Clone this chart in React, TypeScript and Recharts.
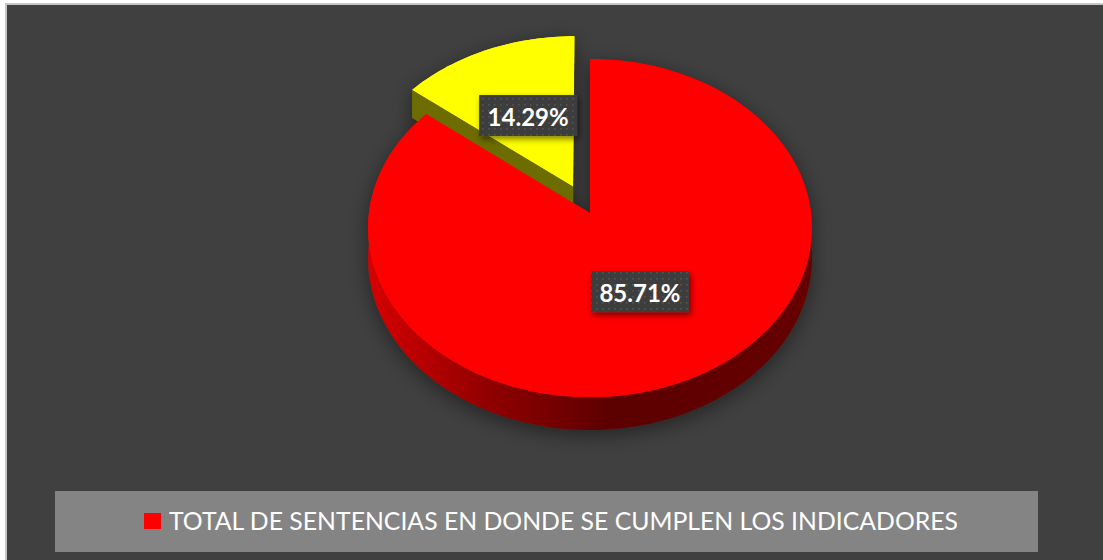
import React from "react";
import { PieChart, Pie, Cell, Legend } from "recharts";

// ---- data ----
const CATEGORIES = ["TOTAL DE SENTENCIAS EN DONDE SE CUMPLEN LOS INDICADORES", ""];
const VALUES = [85.71, 14.29];

// ---- styles ----
const TOP_COLORS = ["#ff0000", "#ffff00"];
const RADIAL_COLORS = ["#7a0000", "#6c6c00"];
const WALL_STOPS: [number, string][][] = [
  [
    [0, "#d60000"],
    [0.28, "#8e0000"],
    [0.55, "#5c0000"],
    [1, "#660000"],
  ],
  [
    [0, "#7a7a00"],
    [1, "#5a5a00"],
  ],
];
const EXPLODE: Record<number, number> = { 1: 0.18 };

const TILT = 0.759;
const PERSP = 0.0888;
const DEPTH = 30 / 221;
const RAD = Math.PI / 180;

const data = CATEGORIES.map((name, i) => ({ name, value: VALUES[i] }));
const TOTAL = VALUES.reduce((a, b) => a + b, 0);

function project(cx: number, cy: number, r: number, u: number, v: number) {
  const w = 1 + PERSP * v;
  return { x: cx + (r * u) / w, y: cy - (r * TILT * v) / w, w };
}

function arcAngles(start: number, end: number) {
  const n = Math.max(2, Math.ceil(Math.abs(end - start) / 1.5));
  const out: number[] = [];
  for (let i = 0; i <= n; i++) out.push(start + ((end - start) * i) / n);
  return out;
}

function idxOf(props: any) {
  if (typeof props.index === "number") return props.index;
  const nm = props.name ?? props.payload?.name;
  const i = CATEGORIES.indexOf(nm);
  return i < 0 ? 0 : i;
}

const Defs = () => (
  <defs>
    <filter id="pieShadow" x="-30%" y="-30%" width="160%" height="160%">
      <feDropShadow dx="0" dy="5" stdDeviation="10" floodColor="#000" floodOpacity="0.45" />
    </filter>
    <filter id="lblShadow" x="-30%" y="-30%" width="160%" height="160%">
      <feDropShadow dx="2" dy="3" stdDeviation="3" floodColor="#000" floodOpacity="0.5" />
    </filter>
    <pattern id="lblPat" width="6" height="6" patternUnits="userSpaceOnUse">
      <rect width="6" height="6" fill="#3e3e3e" />
      <rect x="2" y="2" width="1.6" height="1.6" fill="#555555" />
    </pattern>
    {WALL_STOPS.map((stops, i) => (
      <linearGradient key={i} id={`wall${i}`} gradientUnits="userSpaceOnUse" x1={369} y1={0} x2={811} y2={0}>
        {stops.map(([o, c], j) => (
          <stop key={j} offset={o} stopColor={c} />
        ))}
      </linearGradient>
    ))}
  </defs>
);

function geometry(props: any) {
  const { cx, cy, outerRadius: r, startAngle, endAngle, midAngle } = props;
  const idx = idxOf(props);
  const d = EXPLODE[idx] ?? 0;
  const ou = d * Math.cos(midAngle * RAD);
  const ov = d * Math.sin(midAngle * RAD);
  const angs = arcAngles(startAngle, endAngle);
  const pts = angs.map((a) => project(cx, cy, r, ou + Math.cos(a * RAD), ov + Math.sin(a * RAD)));
  const apex = project(cx, cy, r, ou, ov);
  const dep = (p: { w: number }) => (r * DEPTH) / p.w;
  const topPath =
    `M${apex.x},${apex.y} ` + pts.map((p) => `L${p.x},${p.y}`).join(" ") + " Z";
  return { idx, pts, apex, dep, topPath };
}

const SideShape = (props: any) => {
  const { idx, pts, apex, dep, topPath } = geometry(props);
  const outer =
    `M${pts[0].x},${pts[0].y} ` +
    pts.slice(1).map((p) => `L${p.x},${p.y}`).join(" ") +
    " " +
    pts
      .slice()
      .reverse()
      .map((p) => `L${p.x},${p.y + dep(p)}`)
      .join(" ") +
    " Z";
  const radial = (p: any) =>
    `M${apex.x},${apex.y} L${p.x},${p.y} L${p.x},${p.y + dep(p)} L${apex.x},${apex.y + dep(apex)} Z`;
  return (
    <g filter="url(#pieShadow)">
      {idx === 0 ? <Defs /> : null}
      <path d={outer} fill={`url(#wall${idx})`} />
      <path d={radial(pts[0])} fill={RADIAL_COLORS[idx]} />
      <path d={radial(pts[pts.length - 1])} fill={RADIAL_COLORS[idx]} />
      <path d={topPath} fill={TOP_COLORS[idx]} />
    </g>
  );
};

const TopShape = (props: any) => {
  const { idx, topPath } = geometry(props);
  return <path d={topPath} fill={TOP_COLORS[idx]} />;
};

const renderLabel = (props: any) => {
  const { cx, cy, outerRadius: r, midAngle, value } = props;
  const idx = idxOf(props);
  const d = EXPLODE[idx] ?? 0;
  const t = d + 0.5;
  const p = project(cx, cy, r, t * Math.cos(midAngle * RAD), t * Math.sin(midAngle * RAD));
  const pct = props.percent != null ? props.percent : value / TOTAL;
  const text = (pct * 100).toFixed(2) + "%";
  return (
    <g>
      <rect x={p.x - 49} y={p.y - 20.5} width={98} height={41} fill="url(#lblPat)" filter="url(#lblShadow)" />
      <text
        x={p.x}
        y={p.y + 1}
        fill="#ffffff"
        fontFamily="Lato, 'Open Sans', sans-serif"
        fontWeight={700}
        fontSize={24}
        textAnchor="middle"
        dominantBaseline="central"
      >
        {text}
      </text>
    </g>
  );
};

const renderLegend = (props: any) => {
  const seen = new Set<string>();
  const items = (props.payload || []).filter((p: any) => {
    if (!p.value || seen.has(p.value)) return false;
    seen.add(p.value);
    return true;
  });
  return (
    <svg width={983} height={61} style={{ display: "block" }}>
      <rect width={983} height={61} fill="#848484" />
      {items.map((it: any, i: number) => (
        <g key={i}>
          <rect x={89} y={22} width={17} height={16} fill={it.color || TOP_COLORS[0]} />
          <text
            x={114}
            y={39}
            fill="#ffffff"
            fontFamily="Lato, 'Open Sans', sans-serif"
            fontSize={25}
            textLength={789}
            lengthAdjust="spacingAndGlyphs"
          >
            {it.value}
          </text>
        </g>
      ))}
    </svg>
  );
};

export default function App() {
  return (
    <div
      style={{
        position: "absolute",
        left: 0,
        top: 0,
        width: 1103,
        height: 560,
        background: "#ffffff",
        overflow: "hidden",
      }}
    >
      <div
        style={{
          position: "absolute",
          left: 5,
          top: 3,
          width: 1120,
          height: 580,
          background: "#404040",
          borderLeft: "2px solid #c6c6c6",
          borderTop: "2px solid #c6c6c6",
          boxSizing: "border-box",
        }}
      />
      <div style={{ position: "absolute", left: 0, top: 0 }}>
        <PieChart width={1103} height={560} margin={{ top: 0, right: 0, bottom: 0, left: 0 }}>
          <Pie
            data={data}
            dataKey="value"
            nameKey="name"
            cx={590}
            cy={213}
            outerRadius={221}
            startAngle={90}
            endAngle={-270}
            stroke="none"
            isAnimationActive={false}
            legendType="square"
            shape={SideShape}
            inactiveShape={SideShape}
            activeShape={SideShape}
          >
            {data.map((_, i) => (
              <Cell key={i} fill={TOP_COLORS[i]} />
            ))}
          </Pie>
          <Pie
            data={data}
            dataKey="value"
            nameKey="name"
            cx={590}
            cy={213}
            outerRadius={221}
            startAngle={90}
            endAngle={-270}
            stroke="none"
            isAnimationActive={false}
            legendType="none"
            shape={TopShape}
            inactiveShape={TopShape}
            activeShape={TopShape}
            label={renderLabel}
            labelLine={false}
          >
            {data.map((_, i) => (
              <Cell key={i} fill={TOP_COLORS[i]} />
            ))}
          </Pie>
          <Legend
            content={renderLegend}
            wrapperStyle={{
              position: "absolute",
              left: 55,
              top: 491,
              bottom: "auto",
              width: 983,
              height: 61,
              margin: 0,
              padding: 0,
              lineHeight: 0,
            }}
          />
        </PieChart>
      </div>
    </div>
  );
}
